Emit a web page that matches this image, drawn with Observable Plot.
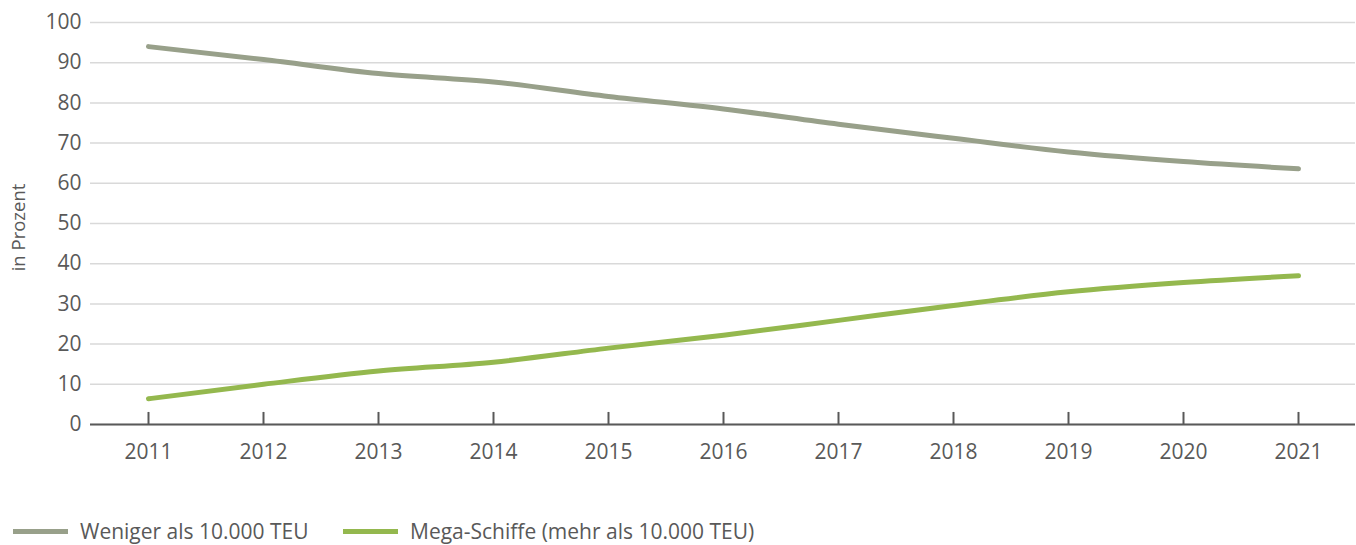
<!DOCTYPE html>
<html>
<head>
<meta charset="utf-8">
<script src="https://cdn.jsdelivr.net/npm/d3@7"></script>
<script src="https://cdn.jsdelivr.net/npm/@observablehq/plot@0.6"></script>
<style>
  body { margin: 0; background: #fff; font-family: "Open Sans", sans-serif; }
  #legend { height: 45px; position: relative; font-size: 21px; color: #595959; }
  .item { position: absolute; top: 17px; display: flex; align-items: center; white-space: nowrap; }
  .sw { width: 55px; height: 5px; margin-right: 12px; }
</style>
</head>
<body>
<div id="chart"></div>
<div id="legend"></div>
<script>
const years = ["2011","2012","2013","2014","2015","2016","2017","2018","2019","2020","2021"];
const weniger = [94.0, 90.8, 87.3, 85.2, 81.6, 78.5, 74.7, 71.2, 67.8, 65.4, 63.6];
const mega    = [6.4, 10.0, 13.3, 15.5, 19.0, 22.2, 25.9, 29.6, 33.0, 35.3, 37.0];
const yTicks = [0,10,20,30,40,50,60,70,80,90,100];
const seriesNames = ["Weniger als 10.000 TEU", "Mega-Schiffe (mehr als 10.000 TEU)"];
const seriesColors = ["#98a08a", "#94b84e"];

const data = [];
years.forEach((y, i) => {
  data.push({year: y, value: weniger[i], series: seriesNames[0]});
  data.push({year: y, value: mega[i], series: seriesNames[1]});
});

const chart = Plot.plot({
  width: 1356,
  height: 500,
  marginLeft: 90,
  marginRight: 1,
  marginTop: 22,
  marginBottom: 76,
  style: {fontFamily: "Open Sans, sans-serif", fontSize: "21px", color: "#595959", background: "#fff"},
  x: {type: "point", domain: years, padding: 0.5},
  y: {domain: [0, 100]},
  color: {domain: seriesNames, range: seriesColors},
  marks: [
    Plot.gridY(yTicks, {stroke: "#d9d9d9", strokeOpacity: 1, strokeWidth: 1.5}),
    Plot.axisY(yTicks, {tickSize: 0, tickPadding: 9, fontSize: 21, fill: "#595959", label: null}),
    Plot.text(["in Prozent"], {frameAnchor: "left", textAnchor: "middle", dx: -71, dy: 4, rotate: -90, fontSize: 18.5, fill: "#595959"}),
    Plot.axisX({tickSize: 0, tickPadding: 20, fontSize: 21, fill: "#595959", label: null}),
    Plot.ruleY([0], {stroke: "#595959", strokeWidth: 2}),
    Plot.ruleX(years, {x: d => d, y1: 0, y2: 3, stroke: "#595959", strokeWidth: 2}),
    Plot.line(data, {x: "year", y: "value", z: "series", stroke: "series", strokeWidth: 5,
      strokeLinecap: "round", strokeLinejoin: "round", curve: "monotone-x"})
  ]
});
document.getElementById("chart").appendChild(chart);

const legend = document.getElementById("legend");
const lefts = [13, 343];
seriesNames.forEach((n, i) => {
  const it = document.createElement("div");
  it.className = "item";
  it.style.left = lefts[i] + "px";
  it.innerHTML = `<span class="sw" style="background:${seriesColors[i]}"></span><span>${n}</span>`;
  legend.appendChild(it);
});
</script>
</body>
</html>
